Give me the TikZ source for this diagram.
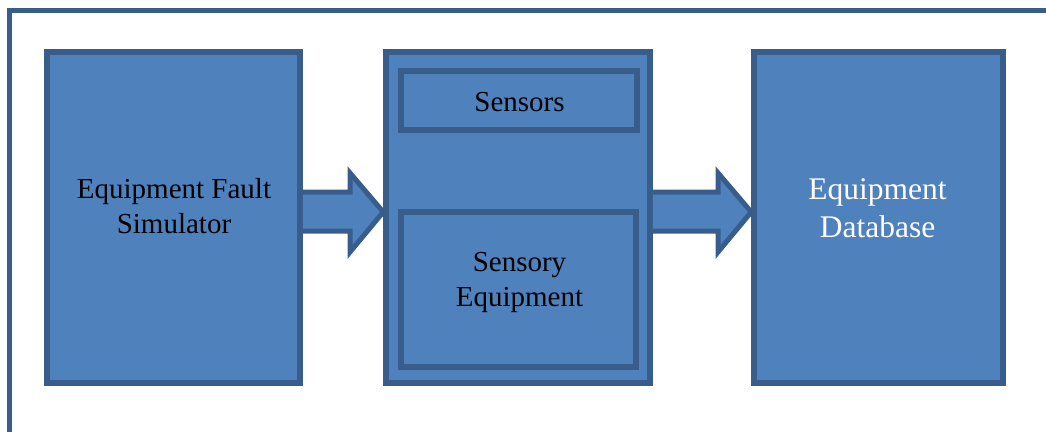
\documentclass[tikz,border=0pt]{standalone}
\usepackage{fontspec}
\setmainfont{Liberation Serif}
\definecolor{boxfill}{HTML}{4F81BD}
\definecolor{boxline}{HTML}{385D8A}
\begin{document}
\begin{tikzpicture}[x=1pt,y=-1pt,
  box/.style={draw=boxline,fill=boxfill,line width=5.5pt,inner sep=0pt},
  lbl/.style={align=center,anchor=base,font=\fontsize{29}{35}\selectfont},
  blockarr/.style={draw=boxline,fill=boxfill,line width=5pt,line join=miter}]

\useasboundingbox (0,0) rectangle (1046,432);

% Outer frame, open at right and bottom
\draw[boxline,line width=5pt] (9.5,432) -- (9.5,10) -- (1046,10);

% Main blocks
\node[box,minimum width=253pt,minimum height=331pt] (sim) at (173.5,217.5) {};
\node[box,minimum width=264pt,minimum height=331pt] (unit) at (518,217.5) {};
\node[box,minimum width=249pt,minimum height=331pt] (db) at (878.5,217.5) {};

% Inner blocks of the middle unit
\node[box,minimum width=236pt,minimum height=59pt] (sensors) at (519,100.5) {};
\node[box,minimum width=235pt,minimum height=155pt] (sensequip) at (518.5,289.5) {};

% Block arrows
\draw[blockarr] (sim.east |- 0,192) -- (350,192) -- (350,173) -- (unit.west |- 0,212)
  -- (350,252) -- (350,231) -- (sim.east |- 0,231);
\draw[blockarr] (unit.east |- 0,192) -- (718,192) -- (718,173) -- (db.west |- 0,212)
  -- (718,252) -- (718,231) -- (unit.east |- 0,231);

% Labels (base = baseline of the last line)
\node[lbl] (simtext) at (174,233) {Equipment Fault\\Simulator};
\node[lbl] (sensorstext) at (519.5,111) {Sensors};
\node[lbl] (sensequiptext) at (519.5,306) {Sensory\\Equipment};
\node[lbl,text=white,font=\fontsize{31.5}{38}\selectfont] (dbtext) at (877.5,237) {Equipment\\Database};

\end{tikzpicture}
\end{document}
